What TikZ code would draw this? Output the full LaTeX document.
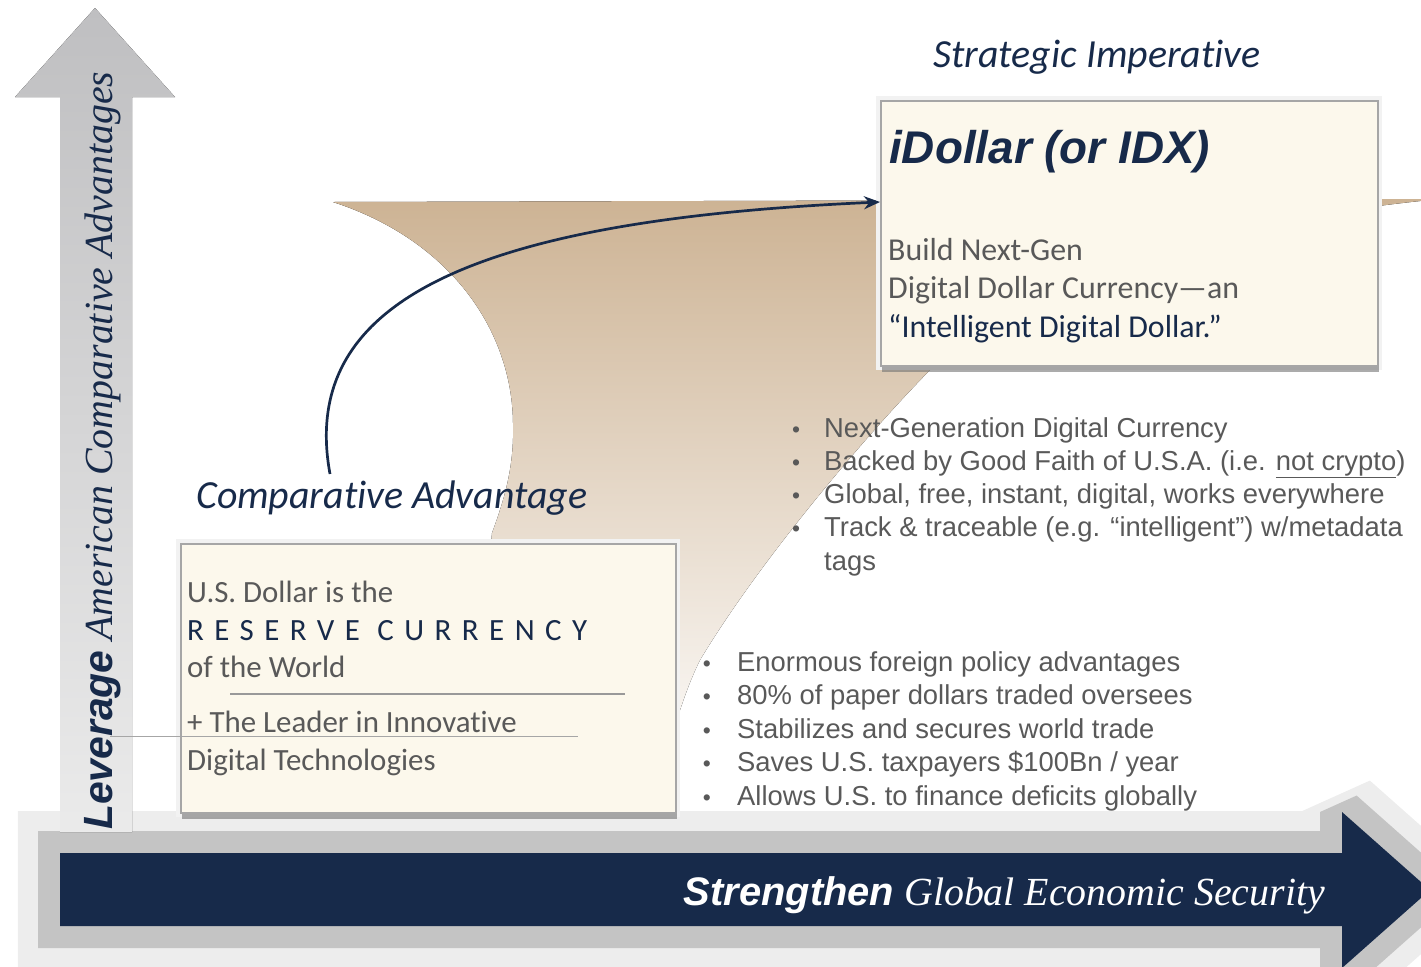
\documentclass[tikz,border=0pt]{standalone}
\usepackage{fontspec}
\setmainfont{Liberation Serif}
\newfontfamily\calibri[Ligatures=NoCommon]{Carlito}
\newfontfamily\arial{Liberation Sans}
\usetikzlibrary{positioning,arrows.meta,shadows}

\definecolor{navy}{HTML}{172A4A}
\definecolor{textgray}{HTML}{595959}
\definecolor{cream}{HTML}{FCF8EC}
\definecolor{tan}{HTML}{CDB394}
\definecolor{axisgray}{HTML}{BFBFC1}

\tikzset{
  >={Stealth[length=16bp,width=13bp]},
  card/.style={draw=black!35, line width=1.5bp, fill=cream, anchor=north west,
    inner sep=0pt, preaction={draw=black!5, line width=9bp},
    drop shadow={shadow xshift=1bp, shadow yshift=-6bp, fill=black!55, opacity=.6}},
  cardtext/.style={anchor=base west, inner sep=0pt, text=textgray,
    font=\calibri\fontsize{32}{39}\selectfont},
  basetext/.style={cardtext, font=\calibri\fontsize{31}{37}\selectfont},
  bullettext/.style={anchor=base west, inner sep=0pt, text=textgray,
    font=\arial\fontsize{27.5}{33}\selectfont},
  bulletdot/.style={bullettext, anchor=base, font=\arial\fontsize{23}{26}\selectfont},
  heading/.style={inner sep=0pt, text=navy,
    font=\calibri\itshape\fontsize{40}{48}\selectfont}
}

\begin{document}
\begin{tikzpicture}[x=1bp,y=-1bp]
  \clip (0,0) rectangle (1421,966);

  % soft shadow round the horizontal axis
  \foreach \d/\c in {84/7, 44/23}
    \draw[black!\c, fill=black!\c, line width=\d bp, line join=miter, miter limit=1.5]
      (60,853) -- (1342,853) -- (1342,812) -- (1430,890) -- (1342,968)
      -- (1342,926) -- (60,926) -- cycle;

  % vertical axis
  \fill[top color=axisgray, bottom color=black!8]
    (60,832) -- (60,97) -- (15,97) -- (95,8) -- (175,97) -- (132,97)
    -- (132,832) -- cycle;

  % tan swoosh
  \fill[top color=tan, middle color=tan!50!white, bottom color=white]
    (333,202) -- (1440,199) .. controls (1200,222) and (1000,290) .. (935,365)
    .. controls (870,430) and (760,560) .. (700,660)
    .. controls (680,700) and (665,760) .. (655,800) -- (540,800)
    .. controls (510,700) and (485,600) .. (492,533)
    .. controls (508,490) and (514,460) .. (513,423)
    .. controls (512,330) and (450,240) .. (333,202) -- cycle;

  % horizontal axis
  \fill[navy] (60,853) -- (1342,853) -- (1342,812) -- (1430,890) -- (1342,968)
    -- (1342,926) -- (60,926) -- cycle;

  \node[anchor=base west, rotate=90, inner sep=0pt, text=navy] (yaxis) at (112,830)
    {{\arial\bfseries\itshape\fontsize{41}{48}\selectfont Leverage}{\itshape\fontsize{40}{48}\selectfont\ American Comparative Advantages}};
  \node[anchor=base east, inner sep=0pt, text=white] (xaxis) at (1325,905)
    {{\arial\bfseries\itshape\fontsize{40}{46}\selectfont Strengthen}{\itshape\fontsize{40}{46}\selectfont\ Global Economic Security}};

  % strategic imperative
  \node[heading, anchor=base] (strat) at (1097,67) {Strategic Imperative};
  \node[card, minimum width=497bp, minimum height=265bp] (topbox) at (880,100) {};
  \node[anchor=base west, inner sep=0pt, text=navy,
    font=\arial\bfseries\itshape\fontsize{46}{52}\selectfont] (idx) at (889,163) {iDollar (or IDX)};
  \node[cardtext] (build) at (888,260) {Build Next-Gen};
  \node[cardtext] (digital) at (888,298) {Digital Dollar Currency—an};
  \node[cardtext, text=navy] (intel) at (888,337) {“Intelligent Digital Dollar.”};

  % comparative advantage
  \node[heading, anchor=base west] (compadv) at (196,508) {Comparative Advantage};
  \node[card, minimum width=495bp, minimum height=269bp] (basebox) at (180,543) {};
  \node[basetext] (usd) at (187,602) {U.S. Dollar is the};
  \node[basetext, text=navy] (reserve) at (187,640)
    {\addfontfeature{LetterSpace=34}RESERVE CURRENCY};
  \node[basetext] (world) at (187,677) {of the World};
  \node[basetext] (leader) at (187,732) {+ The Leader in Innovative};
  \node[basetext] (tech) at (187,770) {Digital Technologies};
  \draw[black!40, line width=1.2bp] (230,694) -- (625,694);
  \draw[black!35, line width=1bp] (110,736) -- (578,736);

  % arrow from advantage to imperative
  \coordinate (curvestart) at (330,474);
  \path (topbox.north west) ++(0,102) coordinate (curveend);
  \draw[navy, line width=2.7bp, ->] (curvestart) .. controls (298,300) and (475,220) .. (curveend);

  % bullets
  \foreach \txt [count=\i] in {Next-Generation Digital Currency,
      Backed by Good Faith of U.S.A. (i.e. \underline{not crypto}),
      {Global, free, instant, digital, works everywhere},
      Track \& traceable (e.g. “intelligent”) w/metadata} {
    \node[bulletdot] (tdot\i) at (796,{437+33.2*(\i-1)}) {•};
    \node[bullettext] (tb\i) at (824,{437+33.2*(\i-1)}) {\txt};
  }
  \node[bullettext] (tb5) at (824,570) {tags};

  \foreach \txt [count=\i] in {Enormous foreign policy advantages,
      80\% of paper dollars traded oversees,
      Stabilizes and secures world trade,
      Saves U.S. taxpayers \$100Bn / year,
      Allows U.S. to finance deficits globally} {
    \node[bulletdot] (bdot\i) at (707,{671+33.5*(\i-1)}) {•};
    \node[bullettext] (bb\i) at (737,{671+33.5*(\i-1)}) {\txt};
  }
\end{tikzpicture}
\end{document}
